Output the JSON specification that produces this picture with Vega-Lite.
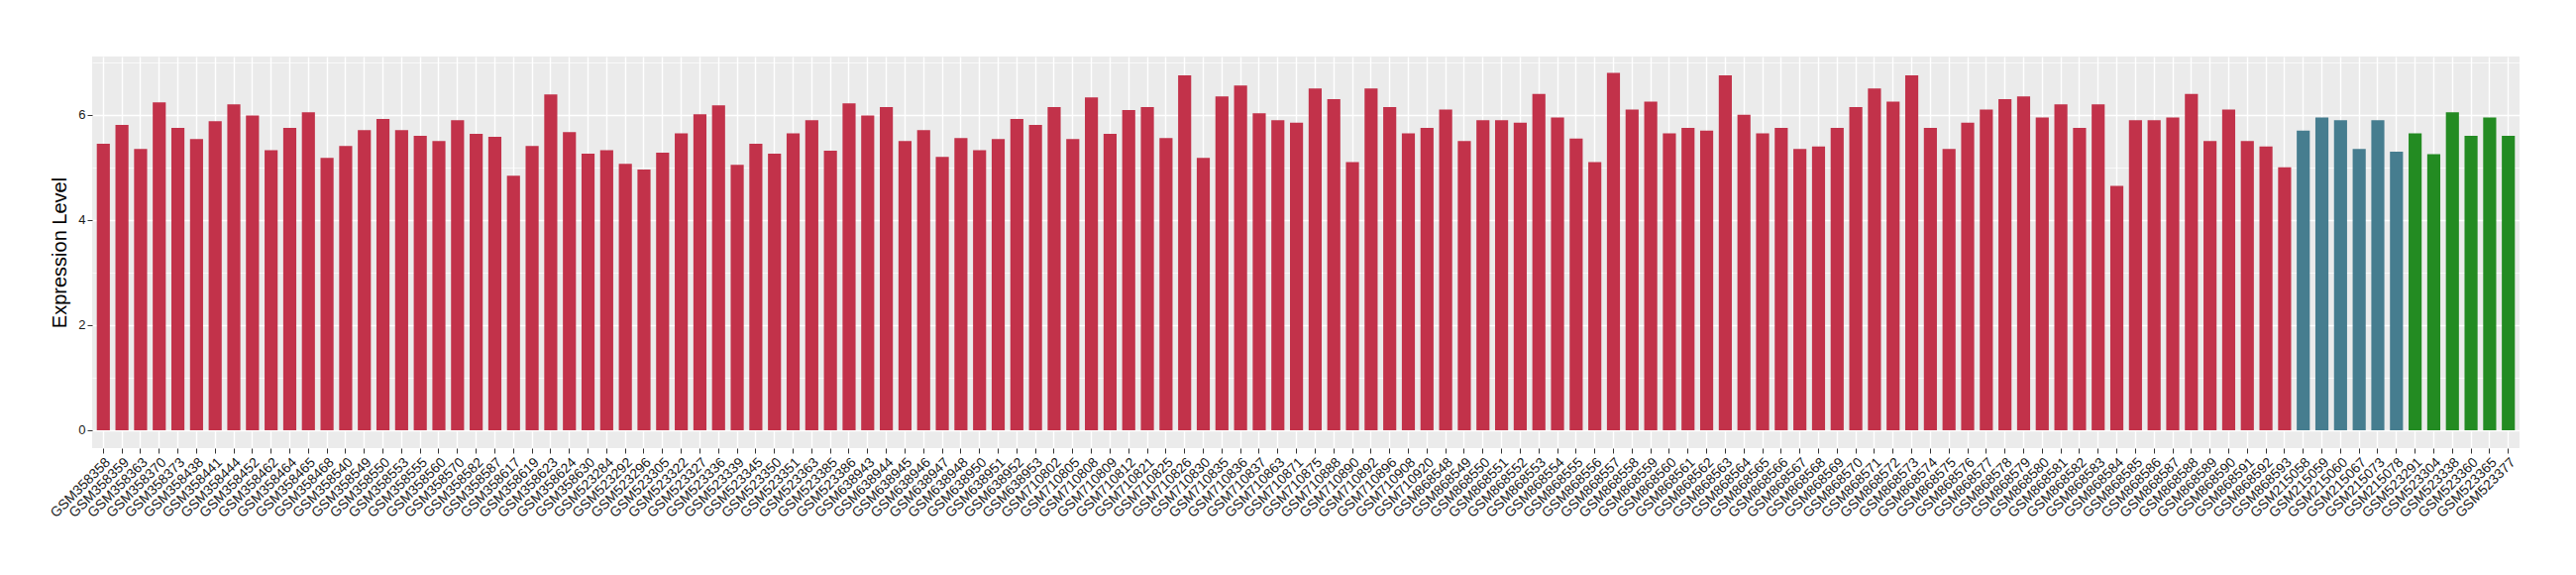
{
  "$schema": "https://vega.github.io/schema/vega-lite/v6.json",
  "autosize": {"type": "none"},
  "width": 2450,
  "height": 395,
  "padding": {"left": 93, "top": 57, "right": 57, "bottom": 128},
  "background": "white",
  "config": {
    "font": "Liberation Sans",
    "view": {"fill": "#EBEBEB", "stroke": null}
  },
  "data": {"values": [
    {"s":"GSM358358","v":5.45,"g":"a"},{"s":"GSM358359","v":5.81,"g":"a"},{"s":"GSM358363","v":5.35,"g":"a"},{"s":"GSM358370","v":6.24,"g":"a"},{"s":"GSM358373","v":5.75,"g":"a"},
    {"s":"GSM358438","v":5.54,"g":"a"},{"s":"GSM358441","v":5.88,"g":"a"},{"s":"GSM358444","v":6.20,"g":"a"},{"s":"GSM358452","v":5.99,"g":"a"},{"s":"GSM358462","v":5.33,"g":"a"},
    {"s":"GSM358464","v":5.75,"g":"a"},{"s":"GSM358465","v":6.05,"g":"a"},{"s":"GSM358468","v":5.18,"g":"a"},{"s":"GSM358540","v":5.41,"g":"a"},{"s":"GSM358549","v":5.71,"g":"a"},
    {"s":"GSM358550","v":5.92,"g":"a"},{"s":"GSM358553","v":5.71,"g":"a"},{"s":"GSM358555","v":5.60,"g":"a"},{"s":"GSM358560","v":5.50,"g":"a"},{"s":"GSM358570","v":5.90,"g":"a"},
    {"s":"GSM358582","v":5.64,"g":"a"},{"s":"GSM358587","v":5.58,"g":"a"},{"s":"GSM358617","v":4.84,"g":"a"},{"s":"GSM358619","v":5.41,"g":"a"},{"s":"GSM358623","v":6.39,"g":"a"},
    {"s":"GSM358624","v":5.67,"g":"a"},{"s":"GSM358630","v":5.26,"g":"a"},{"s":"GSM523284","v":5.33,"g":"a"},{"s":"GSM523292","v":5.07,"g":"a"},{"s":"GSM523296","v":4.96,"g":"a"},
    {"s":"GSM523305","v":5.28,"g":"a"},{"s":"GSM523322","v":5.65,"g":"a"},{"s":"GSM523327","v":6.01,"g":"a"},{"s":"GSM523336","v":6.18,"g":"a"},{"s":"GSM523339","v":5.05,"g":"a"},
    {"s":"GSM523345","v":5.45,"g":"a"},{"s":"GSM523350","v":5.26,"g":"a"},{"s":"GSM523351","v":5.65,"g":"a"},{"s":"GSM523363","v":5.90,"g":"a"},{"s":"GSM523385","v":5.32,"g":"a"},
    {"s":"GSM523386","v":6.22,"g":"a"},{"s":"GSM638943","v":5.99,"g":"a"},{"s":"GSM638944","v":6.15,"g":"a"},{"s":"GSM638945","v":5.50,"g":"a"},{"s":"GSM638946","v":5.71,"g":"a"},
    {"s":"GSM638947","v":5.20,"g":"a"},{"s":"GSM638948","v":5.56,"g":"a"},{"s":"GSM638950","v":5.33,"g":"a"},{"s":"GSM638951","v":5.54,"g":"a"},{"s":"GSM638952","v":5.92,"g":"a"},
    {"s":"GSM638953","v":5.81,"g":"a"},{"s":"GSM710802","v":6.15,"g":"a"},{"s":"GSM710805","v":5.54,"g":"a"},{"s":"GSM710808","v":6.33,"g":"a"},{"s":"GSM710809","v":5.64,"g":"a"},
    {"s":"GSM710812","v":6.09,"g":"a"},{"s":"GSM710821","v":6.15,"g":"a"},{"s":"GSM710825","v":5.56,"g":"a"},{"s":"GSM710826","v":6.75,"g":"a"},{"s":"GSM710830","v":5.18,"g":"a"},
    {"s":"GSM710835","v":6.35,"g":"a"},{"s":"GSM710836","v":6.56,"g":"a"},{"s":"GSM710837","v":6.03,"g":"a"},{"s":"GSM710863","v":5.90,"g":"a"},{"s":"GSM710871","v":5.85,"g":"a"},
    {"s":"GSM710875","v":6.50,"g":"a"},{"s":"GSM710888","v":6.30,"g":"a"},{"s":"GSM710890","v":5.10,"g":"a"},{"s":"GSM710892","v":6.50,"g":"a"},{"s":"GSM710896","v":6.15,"g":"a"},
    {"s":"GSM710908","v":5.65,"g":"a"},{"s":"GSM710920","v":5.75,"g":"a"},{"s":"GSM868548","v":6.10,"g":"a"},{"s":"GSM868549","v":5.50,"g":"a"},{"s":"GSM868550","v":5.90,"g":"a"},
    {"s":"GSM868551","v":5.90,"g":"a"},{"s":"GSM868552","v":5.85,"g":"a"},{"s":"GSM868553","v":6.40,"g":"a"},{"s":"GSM868554","v":5.95,"g":"a"},{"s":"GSM868555","v":5.55,"g":"a"},
    {"s":"GSM868556","v":5.10,"g":"a"},{"s":"GSM868557","v":6.80,"g":"a"},{"s":"GSM868558","v":6.10,"g":"a"},{"s":"GSM868559","v":6.25,"g":"a"},{"s":"GSM868560","v":5.65,"g":"a"},
    {"s":"GSM868561","v":5.75,"g":"a"},{"s":"GSM868562","v":5.70,"g":"a"},{"s":"GSM868563","v":6.75,"g":"a"},{"s":"GSM868564","v":6.00,"g":"a"},{"s":"GSM868565","v":5.65,"g":"a"},
    {"s":"GSM868566","v":5.75,"g":"a"},{"s":"GSM868567","v":5.35,"g":"a"},{"s":"GSM868568","v":5.40,"g":"a"},{"s":"GSM868569","v":5.75,"g":"a"},{"s":"GSM868570","v":6.15,"g":"a"},
    {"s":"GSM868571","v":6.50,"g":"a"},{"s":"GSM868572","v":6.25,"g":"a"},{"s":"GSM868573","v":6.75,"g":"a"},{"s":"GSM868574","v":5.75,"g":"a"},{"s":"GSM868575","v":5.35,"g":"a"},
    {"s":"GSM868576","v":5.85,"g":"a"},{"s":"GSM868577","v":6.10,"g":"a"},{"s":"GSM868578","v":6.30,"g":"a"},{"s":"GSM868579","v":6.35,"g":"a"},{"s":"GSM868580","v":5.95,"g":"a"},
    {"s":"GSM868581","v":6.20,"g":"a"},{"s":"GSM868582","v":5.75,"g":"a"},{"s":"GSM868583","v":6.20,"g":"a"},{"s":"GSM868584","v":4.65,"g":"a"},{"s":"GSM868585","v":5.90,"g":"a"},
    {"s":"GSM868586","v":5.90,"g":"a"},{"s":"GSM868587","v":5.95,"g":"a"},{"s":"GSM868588","v":6.40,"g":"a"},{"s":"GSM868589","v":5.50,"g":"a"},{"s":"GSM868590","v":6.10,"g":"a"},
    {"s":"GSM868591","v":5.50,"g":"a"},{"s":"GSM868592","v":5.40,"g":"a"},{"s":"GSM868593","v":5.00,"g":"a"},
    {"s":"GSM215058","v":5.70,"g":"b"},{"s":"GSM215059","v":5.95,"g":"b"},{"s":"GSM215060","v":5.90,"g":"b"},{"s":"GSM215067","v":5.35,"g":"b"},{"s":"GSM215073","v":5.90,"g":"b"},{"s":"GSM215078","v":5.30,"g":"b"},
    {"s":"GSM523291","v":5.65,"g":"c"},{"s":"GSM523304","v":5.25,"g":"c"},{"s":"GSM523338","v":6.05,"g":"c"},{"s":"GSM523360","v":5.60,"g":"c"},{"s":"GSM523365","v":5.95,"g":"c"},{"s":"GSM523377","v":5.60,"g":"c"}
  ]},
  "encoding": {
    "x": {
      "field": "s", "type": "nominal", "sort": null,
      "scale": {"paddingInner": 0.3, "paddingOuter": 0.25},
      "axis": {
        "title": null, "domain": false, "grid": true, "gridColor": "white", "gridWidth": 1.4,
        "bandPosition": 0.5, "tickColor": "#333333", "tickSize": 5, "tickWidth": 1,
        "labelAngle": -45, "labelAlign": "right", "labelBaseline": "top", "labelPadding": 2,
        "labelFontSize": 14, "labelColor": "#1a1a1a", "labelFont": "Liberation Sans"
      }
    },
    "y": {
      "field": "v", "type": "quantitative",
      "scale": {"domain": [-0.34, 7.11], "nice": false, "zero": false}
    }
  },
  "layer": [
    {
      "mark": {"type": "bar", "opacity": 0},
      "encoding": {
        "y": {"field": "v", "type": "quantitative",
          "axis": {"values": [1, 3, 5, 7], "grid": true, "gridColor": "white", "gridWidth": 0.7,
            "labels": false, "ticks": false, "domain": false, "title": null, "orient": "left"}}
      }
    },
    {
      "mark": {"type": "bar"},
      "encoding": {
        "y": {"field": "v", "type": "quantitative",
          "axis": {"values": [0, 2, 4, 6], "grid": true, "gridColor": "white", "gridWidth": 1.4,
            "domain": false, "tickColor": "#333333", "tickSize": 5, "labelFontSize": 13,
            "labelColor": "#1a1a1a", "labelPadding": 2, "title": "Expression Level",
            "titleFontSize": 20, "titleFontWeight": "normal", "titleColor": "#000000", "titlePadding": 8,
            "orient": "left"}},
        "color": {"field": "g", "type": "nominal", "legend": null,
          "scale": {"domain": ["a", "b", "c"], "range": ["#C2324A", "#467D8F", "#238B22"]}}
      }
    }
  ],
  "resolve": {"axis": {"y": "independent"}}
}
